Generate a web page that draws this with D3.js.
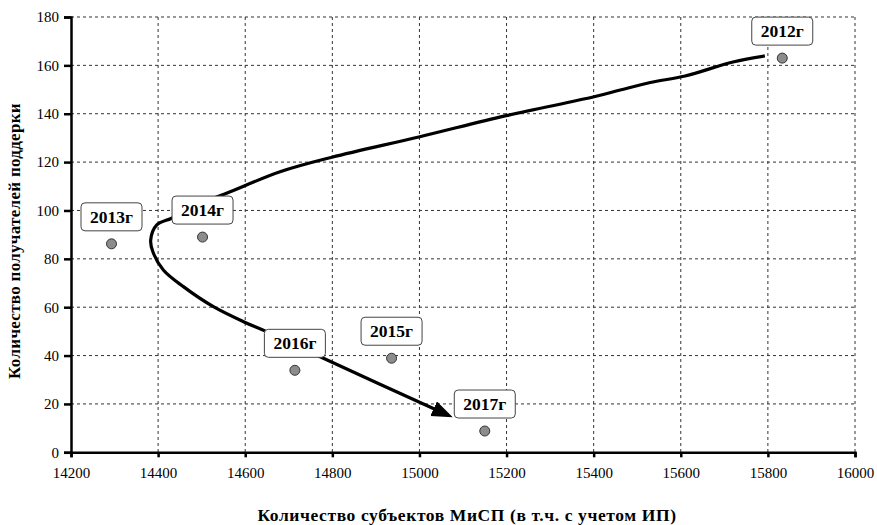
<!DOCTYPE html>
<html><head><meta charset="utf-8">
<script src="https://cdn.jsdelivr.net/npm/d3@7"></script>
<style>body{margin:0;background:#fff}svg{display:block}</style>
</head><body><svg id="c" width="877" height="525"></svg>
<script>
const years = ["2012г","2013г","2014г","2015г","2016г","2017г"];
const subjects = [15833,14293,14502,14936,14714,15150];
const recipients = [163,86.2,89,38.9,33.9,8.8];
const xTicks = [14200,14400,14600,14800,15000,15200,15400,15600,15800,16000];
const yTicks = [0,20,40,60,80,100,120,140,160,180];
const trendX = [15793,15720,15610,15530,15461,15401,15199,15001,14799,14680,14557,14485,14431,14397,14383,14388,14412,14458,14527,14596,14649,14772,15066];
const trendY = [163.9,161.4,155.6,152.9,149.8,147.0,139.2,130.5,122.0,116.0,107.1,102.0,96.8,94.0,87.8,82.9,75.4,68.5,60.2,54.0,49.9,39.5,15.3];
const xTitle = "Количество субъектов МиСП (в т.ч. с учетом ИП)";
const yTitle = "Количество получателей поддерки";
const FONT = "'Liberation Serif', serif";

const svg = d3.select("#c");
const L=71,R=855,T=17,B=452.3;
const x = d3.scaleLinear().domain([14200,16000]).range([L,R]);
const y = d3.scaleLinear().domain([0,180]).range([B,T]);

const g = svg.append("g");
g.selectAll(".vg").data(xTicks.slice(1)).join("line")
 .attr("x1",d=>x(d)).attr("x2",d=>x(d)).attr("y1",T).attr("y2",B)
 .attr("stroke","#333").attr("stroke-width",1).attr("stroke-dasharray","3,3");
g.selectAll(".hg").data(yTicks.slice(1)).join("line")
 .attr("x1",L).attr("x2",R).attr("y1",d=>y(d)).attr("y2",d=>y(d))
 .attr("stroke","#333").attr("stroke-width",1).attr("stroke-dasharray","3,3");

const xa = svg.append("g").attr("transform",`translate(0,${B})`)
 .call(d3.axisBottom(x).tickValues(xTicks).tickFormat(d=>String(d)).tickSizeOuter(0).tickSize(5).tickPadding(10));
const ya = svg.append("g").attr("transform",`translate(${L},0)`)
 .call(d3.axisLeft(y).tickValues(yTicks).tickSizeOuter(0).tickSize(7).tickPadding(5));
[xa,ya].forEach(a=>{
 a.select(".domain").attr("stroke","#000").attr("stroke-width",2.5);
 a.selectAll(".tick line").attr("stroke","#000").attr("stroke-width",2.5);
 a.selectAll(".tick text").attr("font-size",15).attr("fill","#000");
});

svg.append("text").attr("x",467).attr("y",521).attr("text-anchor","middle")
 .attr("font-weight","bold").attr("font-size",17.5).attr("letter-spacing",0.6).text(xTitle);
svg.append("text").attr("transform","translate(20,241) rotate(-90)").attr("text-anchor","middle")
 .attr("font-weight","bold").attr("font-size",17).attr("letter-spacing",0.3).text(yTitle);

svg.append("defs").append("marker").attr("id","arr")
 .attr("markerUnits","userSpaceOnUse").attr("markerWidth",24).attr("markerHeight",18)
 .attr("refX",16).attr("refY",8).attr("orient","auto")
 .append("path").attr("d","M0,0 L21,8 L0,16 Z").attr("fill","#000");
const pts = trendX.map((d,i)=>[d,trendY[i]]);
svg.append("path").datum(pts)
 .attr("d",d3.line().x(d=>x(d[0])).y(d=>y(d[1])).curve(d3.curveCatmullRom.alpha(0.5)))
 .attr("fill","none").attr("stroke","#000").attr("stroke-width",3.2).attr("marker-end","url(#arr)");

svg.selectAll(".pt").data(years).join("circle")
 .attr("cx",(d,i)=>x(subjects[i])).attr("cy",(d,i)=>y(recipients[i])).attr("r",5)
 .attr("fill","#8c8c8c").attr("stroke","#333").attr("stroke-width",1);

const lab = svg.selectAll(".lab").data(years).join("g")
 .attr("transform",(d,i)=>`translate(${x(subjects[i])},${y(recipients[i])-27})`);
lab.append("rect").attr("x",-30.5).attr("y",-14).attr("width",61).attr("height",28).attr("rx",4)
 .attr("fill","#fff").attr("stroke","#444").attr("stroke-width",1);
lab.append("text").attr("text-anchor","middle").attr("dy","0.35em")
 .attr("font-weight","bold").attr("font-size",17.5).text(d=>d);

svg.selectAll("text").each(function(){ this.style.setProperty("font-family", FONT, "important"); });
</script></body></html>
